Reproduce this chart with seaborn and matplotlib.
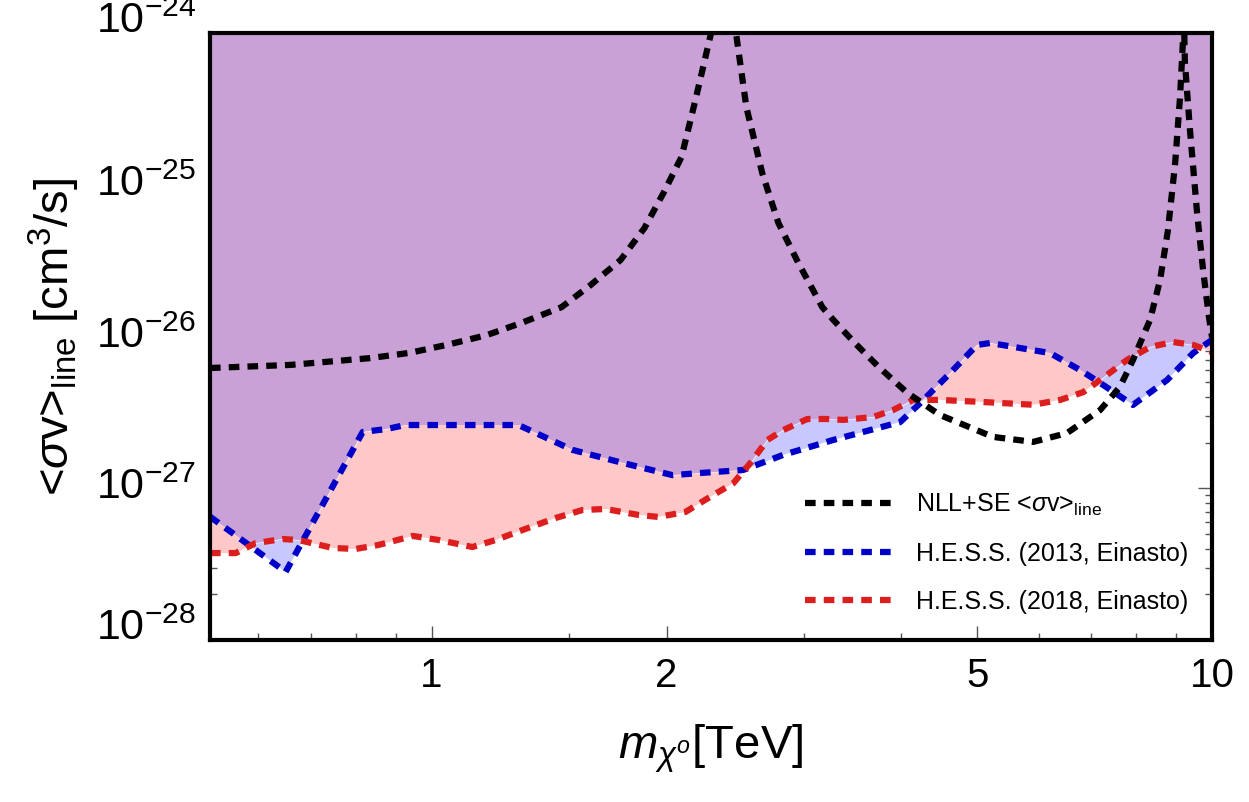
import matplotlib
matplotlib.use('Agg')
import matplotlib.pyplot as plt
from matplotlib.ticker import LogLocator, NullFormatter
import seaborn as sns

# NLL+SE <sigma v>_line (black dashed)
nll_x = [0.52, 0.66, 0.833, 0.937, 1.045, 1.176, 1.304, 1.467, 1.598, 1.746,
         1.874, 1.982, 2.09, 2.178, 2.27, 2.387, 2.465, 2.531, 2.653, 2.782,
         2.951, 3.167, 3.27, 3.49, 3.74, 4.07, 4.48, 5.24, 5.90, 6.52,
         7.19, 7.62, 7.92, 8.33, 8.58, 8.78, 8.97, 9.10, 9.18, 9.20,
         9.23, 9.37, 9.57, 9.74, 9.91, 10.0]
nll_y = [6.2e-27, 6.5e-27, 7.2e-27, 7.8e-27, 8.8e-27, 1.02e-26, 1.23e-26, 1.56e-26, 2.18e-26, 3.19e-26,
         5.19e-26, 8.83e-26, 1.52e-25, 3.62e-25, 9.0e-25, 2.8e-24, 8.6e-25, 3.25e-25, 1.19e-25, 5.6e-26,
         3.05e-26, 1.56e-26, 1.29e-26, 9.0e-27, 6.3e-27, 4.25e-27, 3.04e-27, 2.18e-27, 2.02e-27, 2.31e-27,
         3.28e-27, 4.65e-27, 7.0e-27, 1.29e-26, 2.36e-26, 5.0e-26, 1.39e-25, 3.78e-25, 9.0e-25, 1.5e-24,
         6.5e-25, 2.3e-25, 6.5e-26, 2.74e-26, 1.35e-26, 9.9e-27]

# H.E.S.S. 2013 (Einasto) limit
hess13_x = [0.52, 0.65, 0.816, 0.873, 0.926, 1.255, 1.292, 1.515, 1.756, 2.035,
            2.21, 2.508, 2.823, 3.27, 3.985, 4.23, 4.62, 5.0, 5.2, 6.2,
            6.78, 7.19, 7.92, 8.76, 9.46, 10.0]
hess13_y = [6.5e-28, 2.81e-28, 2.35e-27, 2.45e-27, 2.61e-27, 2.61e-27, 2.61e-27, 1.79e-27, 1.47e-27, 1.22e-27,
            1.26e-27, 1.32e-27, 1.66e-27, 2.08e-27, 2.73e-27, 3.65e-27, 5.75e-27, 8.8e-27, 9.06e-27, 7.78e-27,
            6.0e-27, 4.94e-27, 3.54e-27, 5.17e-27, 7.78e-27, 9.5e-27]

# H.E.S.S. 2018 (Einasto) limit
hess18_x = [0.52, 0.561, 0.595, 0.644, 0.675, 0.747, 0.799, 0.855, 0.946, 1.021,
            1.128, 1.208, 1.308, 1.442, 1.561, 1.67, 1.841, 1.953, 2.115, 2.243,
            2.331, 2.436, 2.562, 2.693, 2.823, 3.03, 3.214, 3.37, 3.68, 3.904,
            4.14, 4.48, 5.09, 5.9, 6.39, 6.84, 7.19, 7.78, 8.33, 8.91,
            9.46, 10.0]
hess18_y = [3.74e-28, 3.74e-28, 4.35e-28, 4.63e-28, 4.56e-28, 4.04e-28, 3.98e-28, 4.23e-28, 4.85e-28, 4.56e-28,
            4.1e-28, 4.56e-28, 5.31e-28, 6.37e-28, 7.19e-28, 7.3e-28, 6.67e-28, 6.47e-28, 6.98e-28, 8.4e-28,
            9.45e-28, 1.08e-27, 1.47e-27, 2.08e-27, 2.42e-27, 2.86e-27, 2.86e-27, 2.82e-27, 2.95e-27, 3.28e-27,
            3.82e-27, 3.82e-27, 3.7e-27, 3.55e-27, 3.82e-27, 4.3e-27, 5.17e-27, 7.0e-27, 8.53e-27, 9.2e-27,
            8.8e-27, 7.9e-27]

x_major = [1, 2, 5, 10]
x_major_labels = ['1', '2', '5', '10']
x_minor = [0.6, 0.7, 0.8, 0.9, 1.5, 3, 4, 6, 7, 8, 9]
y_major = [1e-28, 1e-27, 1e-26, 1e-25, 1e-24]

PURPLE = '#C9A1D6'
PINK = '#FFC8C8'
LBLUE = '#C8C8FF'
BLUE = '#0000C8'
RED = '#DC1E1E'

sns.set_style('ticks')
plt.rcParams['font.family'] = ['Liberation Sans', 'DejaVu Sans']
plt.rcParams['mathtext.fontset'] = 'custom'
plt.rcParams['mathtext.rm'] = 'Liberation Sans'
plt.rcParams['mathtext.it'] = 'Liberation Sans:italic'
plt.rcParams['mathtext.bf'] = 'Liberation Sans:bold'
plt.rcParams['text.color'] = 'black'
plt.rcParams['axes.labelcolor'] = 'black'

fig, ax = plt.subplots(figsize=(12.49, 8.02), dpi=100)
fig.subplots_adjust(left=210 / 1249, right=1212 / 1249, bottom=1 - 640 / 802, top=1 - 33 / 802)
ax.set_xscale('log')
ax.set_yscale('log')

TOP, BOT = 1e-22, 1e-30

# regions: clip paths built from the two limit curves
above_red = ax.fill_between(hess18_x, hess18_y, TOP, color='none', lw=0)
above_blue = ax.fill_between(hess13_x, hess13_y, TOP, color='none', lw=0)
red_path = above_red.get_paths()[0]
blue_path = above_blue.get_paths()[0]
above_red.remove()
above_blue.remove()

excl = ax.fill_between(hess13_x, hess13_y, TOP, color=PURPLE, lw=0, zorder=1)
excl.set_clip_path(red_path, ax.transData)
pink = ax.fill_between(hess13_x, BOT, hess13_y, color=PINK, lw=0, zorder=1)
pink.set_clip_path(red_path, ax.transData)
lblue = ax.fill_between(hess18_x, BOT, hess18_y, color=LBLUE, lw=0, zorder=1)
lblue.set_clip_path(blue_path, ax.transData)

dash = (0, (1.7, 1.3))
sns.lineplot(x=nll_x, y=nll_y, ax=ax, color='black', lw=4.5, linestyle=dash,
             label=r'NLL+SE <$\sigma$v>$_{\mathrm{line}}$', zorder=5)
sns.lineplot(x=hess13_x, y=hess13_y, ax=ax, color=BLUE, lw=4.5, linestyle=dash,
             label='H.E.S.S. (2013, Einasto)', zorder=4)
sns.lineplot(x=hess18_x, y=hess18_y, ax=ax, color=RED, lw=4.5, linestyle=dash,
             label='H.E.S.S. (2018, Einasto)', zorder=4)

ax.set_xlim(0.52, 10)
ax.set_ylim(1e-28, 1e-24)

ax.set_xticks(x_major, labels=x_major_labels)
ax.set_xticks(x_minor, minor=True)
ax.xaxis.set_minor_formatter(NullFormatter())
ax.set_yticks(y_major)
ax.yaxis.set_minor_locator(LogLocator(base=10, subs=range(2, 10)))
ax.yaxis.set_minor_formatter(NullFormatter())

ax.tick_params(axis='both', which='both', direction='in', top=True, right=True,
               color='#555555', width=1.0, labelcolor='black')
ax.tick_params(axis='both', which='major', length=10)
ax.tick_params(axis='both', which='minor', length=5)
ax.tick_params(axis='x', which='major', labelsize=29, pad=12)
ax.tick_params(axis='y', which='major', labelsize=31, pad=10)
# edge labels sit on the tick with their baseline, inner ones are centred
ylabs = ax.get_yticklabels()
for i, lab in enumerate(ylabs):
    if i == 0 or i == len(ylabs) - 1:
        lab.set_verticalalignment('baseline')
    else:
        lab.set_verticalalignment('center')

for sp in ax.spines.values():
    sp.set_linewidth(3)
    sp.set_color('black')
    sp.set_zorder(6)

ax.set_xlabel(r'$m_{\chi^{o}}$[TeV]', fontsize=34, labelpad=20)
ax.set_ylabel(r'<$\sigma$v>$_{\mathrm{line}}$ [cm$^{3}$/s]', fontsize=34, labelpad=10)

ax.legend(loc='upper left', bbox_to_anchor=(805 / 1249, 1 - 492 / 802),
          bbox_transform=fig.transFigure, frameon=False, fontsize=18,
          handlelength=3.65, handletextpad=0.8, labelspacing=0.95,
          borderpad=0, borderaxespad=0)

fig.savefig('out.png', dpi=100)
